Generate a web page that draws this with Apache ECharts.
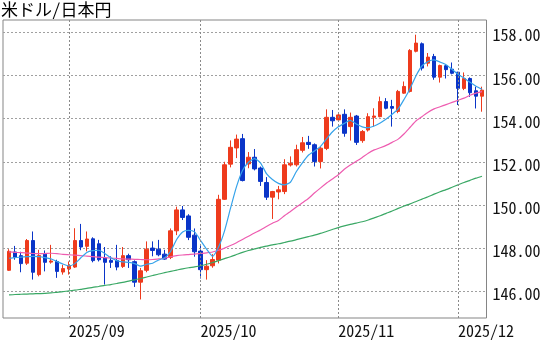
<!DOCTYPE html>
<html>
<head>
<meta charset="utf-8">
<script src="https://cdn.jsdelivr.net/npm/echarts@6/dist/echarts.min.js"></script>
<style>
  html, body { margin: 0; padding: 0; background: #fff; }
  #chart { width: 560px; height: 344px; }
</style>
</head>
<body>
<div id="chart"></div>
<script>
// USD/JPY daily candles, 2025-08-18 .. 2025-12-05
const dates = [
  '2025-08-18','2025-08-19','2025-08-20','2025-08-21','2025-08-22',
  '2025-08-25','2025-08-26','2025-08-27','2025-08-28','2025-08-29',
  '2025-09-01','2025-09-02','2025-09-03','2025-09-04','2025-09-05',
  '2025-09-08','2025-09-09','2025-09-10','2025-09-11','2025-09-12',
  '2025-09-15','2025-09-16','2025-09-17','2025-09-18','2025-09-19',
  '2025-09-22','2025-09-23','2025-09-24','2025-09-25','2025-09-26',
  '2025-09-29','2025-09-30',
  '2025-10-01','2025-10-02','2025-10-03','2025-10-06','2025-10-07',
  '2025-10-08','2025-10-09','2025-10-10','2025-10-13','2025-10-14',
  '2025-10-15','2025-10-16','2025-10-17','2025-10-20','2025-10-21',
  '2025-10-22','2025-10-23','2025-10-24','2025-10-27','2025-10-28',
  '2025-10-29','2025-10-30','2025-10-31',
  '2025-11-03','2025-11-04','2025-11-05','2025-11-06','2025-11-07',
  '2025-11-10','2025-11-11','2025-11-12','2025-11-13','2025-11-14',
  '2025-11-17','2025-11-18','2025-11-19','2025-11-20','2025-11-21',
  '2025-11-24','2025-11-25','2025-11-26','2025-11-27','2025-11-28',
  '2025-12-01','2025-12-02','2025-12-03','2025-12-04','2025-12-05'
];

const open = [
  146.97,147.82,147.65,147.30,148.35,146.77,147.72,147.35,147.38,146.89,
  147.03,147.12,148.35,148.08,148.43,148.20,147.54,147.43,147.42,147.15,
  147.65,147.37,146.42,146.97,148.00,147.95,147.72,147.57,148.80,149.77,
  149.49,148.60,147.86,147.00,147.18,147.44,150.26,151.89,152.64,153.07,
  151.90,152.21,151.71,151.04,150.36,150.60,150.62,151.85,151.86,152.53,
  152.90,152.79,152.01,152.62,154.06,153.94,154.20,153.63,154.12,152.98,
  153.47,154.06,154.09,154.79,154.56,154.33,155.18,155.26,157.12,157.47,
  156.57,156.88,155.92,156.45,156.29,156.15,155.40,155.86,155.29,155.04
];
const close = [
  147.85,147.58,147.28,148.35,146.88,147.66,147.34,147.40,146.92,147.05,
  147.18,148.35,148.05,148.42,147.42,147.46,147.34,147.34,147.12,147.65,
  147.46,146.42,146.95,147.95,147.89,147.69,147.49,148.80,149.77,149.42,
  148.50,147.83,147.00,147.16,147.47,150.26,151.86,152.67,153.05,151.13,
  152.21,151.67,151.09,150.36,150.62,150.70,151.86,151.93,152.56,152.88,
  152.80,152.01,152.63,154.06,153.90,154.17,153.32,154.06,152.90,153.40,
  154.09,154.12,154.79,154.48,154.48,155.26,155.49,157.16,157.50,156.34,
  156.85,155.92,156.46,156.27,156.10,155.40,155.86,155.20,155.04,155.32
];
const low = [
  146.94,147.46,146.88,147.22,146.54,146.69,146.92,147.28,146.62,146.77,
  146.77,147.08,147.90,147.85,147.34,147.38,146.31,147.08,146.97,147.08,
  147.08,146.20,145.62,146.88,147.62,147.62,147.46,147.49,148.60,149.30,
  148.37,147.60,146.59,146.54,147.09,147.29,150.23,151.74,152.17,151.09,
  151.70,151.60,150.88,150.23,149.35,150.26,150.50,151.78,151.78,152.43,
  152.60,151.78,151.69,152.54,153.63,153.86,153.16,152.98,152.78,152.88,
  153.40,153.63,154.06,154.43,153.63,154.25,155.15,155.21,157.07,156.23,
  156.42,155.80,155.67,155.86,156.05,154.63,155.32,155.01,154.47,154.32
];
const high = [
  147.95,148.10,147.83,148.42,148.77,147.92,147.89,148.15,147.46,147.23,
  147.38,148.92,149.12,148.77,148.50,148.38,148.05,147.62,148.15,148.05,
  147.74,147.43,147.08,148.31,148.31,148.38,147.92,148.91,149.92,149.95,
  149.57,148.91,148.19,147.44,147.72,150.47,152.00,152.99,153.26,153.29,
  152.45,152.59,151.78,151.29,150.65,150.88,152.12,152.25,152.79,153.15,
  153.20,152.85,152.70,154.43,154.40,154.28,154.43,154.28,154.17,153.47,
  154.25,154.48,155.02,154.95,154.87,155.33,155.72,157.22,157.89,157.53,
  157.04,157.00,156.50,156.50,156.60,156.17,156.14,155.91,155.48,155.48
];

// Moving averages (short / 25-day / 75-day)
const maShort = [
  147.53,147.56,147.58,147.60,147.62,147.60,147.56,147.50,147.38,147.26,
  147.17,147.28,147.55,147.80,147.88,147.90,147.75,147.55,147.42,147.36,
  147.34,147.28,147.16,147.25,147.30,147.45,147.55,147.85,148.40,148.75,
  148.82,148.75,148.35,147.95,147.62,148.05,148.80,149.85,150.85,151.60,
  151.98,152.15,151.95,151.45,151.18,151.00,150.93,151.05,151.55,151.95,
  152.30,152.50,152.70,153.05,153.38,153.62,153.78,153.92,153.75,153.62,
  153.58,153.66,153.80,153.98,154.20,154.45,154.90,155.40,156.00,156.45,
  156.65,156.72,156.62,156.50,156.28,156.05,155.88,155.68,155.50,155.36
];
const ma25 = [
  147.82,147.80,147.79,147.77,147.75,147.74,147.75,147.76,147.74,147.71,
  147.69,147.67,147.65,147.63,147.60,147.58,147.56,147.54,147.52,147.50,
  147.49,147.48,147.47,147.46,147.47,147.50,147.53,147.60,147.65,147.68,
  147.70,147.72,147.75,147.78,147.82,147.90,148.00,148.12,148.25,148.40,
  148.55,148.70,148.84,149.00,149.15,149.28,149.50,149.70,149.90,150.10,
  150.30,150.55,150.78,151.00,151.20,151.40,151.65,151.85,152.02,152.20,
  152.40,152.55,152.65,152.76,152.90,153.05,153.30,153.60,153.90,154.10,
  154.30,154.45,154.55,154.65,154.75,154.85,154.95,155.08,155.18,155.25
];
const ma75 = [
  145.83,145.85,145.86,145.87,145.88,145.89,145.90,145.92,145.95,145.98,
  146.02,146.05,146.09,146.13,146.18,146.22,146.27,146.31,146.36,146.41,
  146.47,146.53,146.59,146.66,146.73,146.80,146.86,146.92,146.98,147.04,
  147.09,147.13,147.18,147.25,147.33,147.42,147.51,147.60,147.70,147.80,
  147.89,147.96,148.03,148.09,148.15,148.20,148.26,148.32,148.39,148.46,
  148.53,148.60,148.68,148.77,148.86,148.95,149.03,149.10,149.16,149.22,
  149.30,149.40,149.50,149.61,149.72,149.84,149.95,150.05,150.16,150.27,
  150.38,150.50,150.61,150.71,150.82,150.93,151.04,151.14,151.24,151.33
];

// Month labels on the date axis
const monthTicks = ['2025/09', '2025/10', '2025/11', '2025/12'];

const TITLE = '米ドル/日本円';
const UP = '#ee3b1d';
const DOWN = '#0a35c8';
const FONT = "'Noto Sans Mono CJK JP', 'Noto Sans CJK JP', 'DejaVu Sans Mono', monospace";

// index of the first trading day of each labelled month
const monthStart = {};
monthTicks.forEach(function (m) {
  const key = m.replace('/', '-');
  const idx = dates.findIndex(function (d) { return d.indexOf(key) === 0; });
  if (idx >= 0) monthStart[idx] = m;
});

const candleData = dates.map(function (d, i) {
  return [i, open[i], close[i], low[i], high[i]];
});
const toLine = function (arr) { return arr.map(function (v, i) { return [i, v]; }); };

const chart = echarts.init(document.getElementById('chart'), null, { renderer: 'canvas' });
chart.setOption({
  animation: false,
  backgroundColor: '#ffffff',
  title: {
    text: TITLE,
    left: 0,
    top: 1,
    padding: [0, 0, 0, 1],
    textStyle: { fontFamily: FONT, fontSize: 17, fontWeight: 'normal', color: '#000' }
  },
  grid: {
    left: 2, top: 20, right: 73.5, bottom: 26,
    show: true, borderColor: '#858585', borderWidth: 1, backgroundColor: 'transparent'
  },
  xAxis: {
    type: 'value',
    min: -1,
    max: 79.75,
    interval: 1,
    axisLine: { show: false },
    axisTick: { show: false },
    splitLine: { show: false },
    axisLabel: {
      showMinLabel: true, showMaxLabel: true,
      margin: 5,
      align: 'left',
      fontFamily: FONT, fontSize: 16, color: '#111',
      formatter: function (v) { return monthStart[v] || ''; }
    }
  },
  yAxis: {
    type: 'value',
    position: 'right',
    min: 144.76,
    max: 158.57,
    splitNumber: 7,
    axisLine: { show: false },
    axisTick: { show: false },
    splitLine: {
      show: true, showMinLine: false, showMaxLine: false,
      lineStyle: { color: '#a0a0a0', type: [2, 2], width: 1 }
    },
    axisLabel: {
      margin: 6,
      showMinLabel: false, showMaxLabel: false,
      verticalAlign: 'top',
      lineHeight: 6,
      fontFamily: FONT, fontSize: 16, color: '#111',
      formatter: function (v) {
        if (Math.abs(v - Math.round(v)) > 1e-6 || Math.round(v) % 2 !== 0) return '';
        return v.toFixed(2);
      }
    }
  },
  series: [
    {
      type: 'candlestick',
      name: 'USD/JPY',
      data: candleData,
      encode: { x: 0, y: [1, 2, 3, 4] },
      barWidth: 4,
      itemStyle: {
        color: UP, color0: DOWN,
        borderColor: UP, borderColor0: DOWN,
        borderWidth: 1
      },
      markLine: {
        silent: true,
        symbol: ['none', 'none'],
        label: { show: false },
        lineStyle: { color: '#8a8a8a', type: [2, 2], width: 1 },
        data: Object.keys(monthStart).map(function (k) { return { xAxis: Number(k) }; })
      }
    },
    {
      type: 'line', name: 'MA75', data: toLine(ma75), showSymbol: false, smooth: 0.2,
      lineStyle: { color: '#3aa865', width: 1.2 }
    },
    {
      type: 'line', name: 'MA25', data: toLine(ma25), showSymbol: false, smooth: 0.2,
      lineStyle: { color: '#ee5cb0', width: 1.2 }
    },
    {
      type: 'line', name: 'MA5', data: toLine(maShort), showSymbol: false, smooth: 0.2,
      lineStyle: { color: '#36a3ea', width: 1.2 }
    }
  ]
});
</script>
</body>
</html>
